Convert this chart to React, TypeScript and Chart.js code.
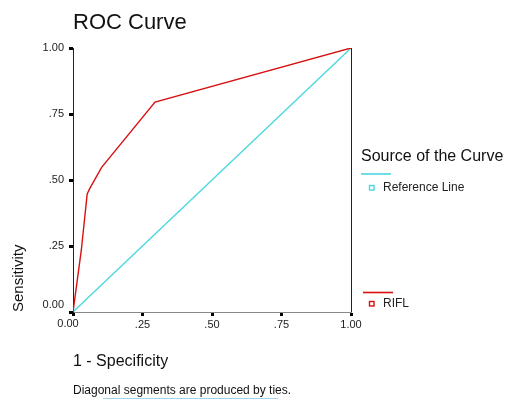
import React, { useEffect, useRef } from "react";
import { Chart, registerables } from "chart.js";

Chart.register(...registerables);

const titleText = "ROC Curve";
const xTitle = "1 - Specificity";
const yTitle = "Sensitivity";
const footnote = "Diagonal segments are produced by ties.";
const legendTitle = "Source of the Curve";
const seriesNames = ["Reference Line", "RIFL"];
const tickValues = [0, 0.25, 0.5, 0.75, 1];

const refX = [0, 1];
const refY = [0, 1];
const riflX = [0, 0.03, 0.051, 0.061, 0.103, 0.295, 1];
const riflY = [0, 0.235, 0.447, 0.469, 0.548, 0.795, 1];

const CYAN = "#4ad8e0";
const RED = "#d81010";
const FONT = "'Liberation Sans', Arial, sans-serif";

const fmt = (v: number) => (v === 0 || v === 1 ? v.toFixed(2) : v.toFixed(2).replace(/^0/, ""));

export default function App() {
  const ref = useRef<HTMLCanvasElement | null>(null);
  useEffect(() => {
    const canvas = ref.current;
    if (!canvas) return;
    const extras = {
      id: "extras",
      afterDraw(chart: any) {
        const { ctx, chartArea } = chart;
        const xs = chart.scales.x;
        const ys = chart.scales.y;
        ctx.save();
        // right frame line
        ctx.strokeStyle = "#222";
        ctx.lineWidth = 1;
        ctx.beginPath();
        ctx.moveTo(chartArea.right + 0.5, chartArea.top);
        ctx.lineTo(chartArea.right + 0.5, chartArea.bottom);
        ctx.stroke();
        // offset zero labels
        ctx.fillStyle = "#222";
        ctx.font = `11px ${FONT}`;
        ctx.textAlign = "right";
        ctx.textBaseline = "middle";
        ctx.fillText(fmt(0), chartArea.left - 9, ys.getPixelForValue(0) - 7);
        ctx.textAlign = "center";
        ctx.textBaseline = "top";
        ctx.fillText(fmt(0), xs.getPixelForValue(0) - 5, chartArea.bottom + 6);
        // title
        ctx.fillStyle = "#111";
        ctx.textAlign = "left";
        ctx.textBaseline = "middle";
        ctx.font = `22px ${FONT}`;
        ctx.fillText(titleText, chartArea.left, 23);
        // x title
        ctx.font = `16px ${FONT}`;
        ctx.fillText(xTitle, chartArea.left, 362);
        // footnote
        ctx.font = `12px ${FONT}`;
        ctx.fillText(footnote, chartArea.left, 391);
        ctx.strokeStyle = "#9fd4ea";
        ctx.beginPath();
        ctx.moveTo(103, 398.5);
        ctx.lineTo(278, 398.5);
        ctx.stroke();
        // y title (rotated, bottom aligned)
        ctx.save();
        ctx.translate(19, 312);
        ctx.rotate(-Math.PI / 2);
        ctx.font = `15px ${FONT}`;
        ctx.textAlign = "left";
        ctx.textBaseline = "middle";
        ctx.fillText(yTitle, 0, 0);
        ctx.restore();
        // legend
        ctx.fillStyle = "#111";
        ctx.font = `16px ${FONT}`;
        ctx.textAlign = "left";
        ctx.textBaseline = "middle";
        ctx.fillText(legendTitle, 361, 157);
        const items = [
          { name: seriesNames[0], color: CYAN, lineY: 174, rowY: 188, lx: 361 },
          { name: seriesNames[1], color: RED, lineY: 292.5, rowY: 304, lx: 363 },
        ];
        items.forEach((it) => {
          ctx.strokeStyle = it.color;
          ctx.lineWidth = 1.6;
          ctx.beginPath();
          ctx.moveTo(it.lx, it.lineY);
          ctx.lineTo(it.lx + 30, it.lineY);
          ctx.stroke();
          ctx.lineWidth = 1.4;
          ctx.strokeRect(369.5, it.rowY - 2.5, 4.5, 4.5);
          ctx.fillStyle = "#222";
          ctx.font = `12px ${FONT}`;
          ctx.fillText(it.name, 383, it.rowY);
        });
        ctx.restore();
      },
    };
    const chart = new Chart(canvas, {
      type: "scatter",
      data: {
        datasets: [
          {
            label: seriesNames[0],
            data: refX.map((x, i) => ({ x, y: refY[i] })),
            showLine: true,
            borderColor: CYAN,
            borderWidth: 1.3,
            pointRadius: 0,
            tension: 0,
            order: 2,
          },
          {
            label: seriesNames[1],
            data: riflX.map((x, i) => ({ x, y: riflY[i] })),
            showLine: true,
            borderColor: RED,
            borderWidth: 1.4,
            pointRadius: 0,
            tension: 0,
            order: 1,
          },
        ],
      },
      options: {
        responsive: false,
        animation: false,
        layout: { padding: { left: 0, top: 48, right: 155, bottom: 57 } },
        plugins: { legend: { display: false }, tooltip: { enabled: false }, title: { display: false } },
        scales: {
          x: {
            type: "linear",
            min: 0,
            max: 1,
            afterBuildTicks: (s: any) => { s.ticks = tickValues.map((v) => ({ value: v })); },
            afterFit: (s: any) => { s.height = 30; },
            ticks: {
              callback: (v: any) => fmt(Number(v)),
              color: (c: any) => (c.tick && c.tick.value === 0 ? "rgba(0,0,0,0)" : "#222"),
              font: { size: 11, family: FONT },
              padding: 2,
              maxRotation: 0,
              autoSkip: false,
            },
            grid: { drawOnChartArea: false, drawTicks: true, tickLength: 4, tickWidth: 3, tickColor: "#000" },
            border: { display: true, color: "#888", width: 1 },
          },
          y: {
            type: "linear",
            min: 0,
            max: 1,
            afterBuildTicks: (s: any) => { s.ticks = tickValues.map((v) => ({ value: v })); },
            afterFit: (s: any) => { s.width = 73; },
            ticks: {
              callback: (v: any) => fmt(Number(v)),
              color: (c: any) => (c.tick && c.tick.value === 0 ? "rgba(0,0,0,0)" : "#222"),
              font: { size: 11, family: FONT },
              padding: 5,
              autoSkip: false,
            },
            grid: { drawOnChartArea: false, drawTicks: true, tickLength: 4, tickWidth: 3, tickColor: "#000" },
            border: { display: true, color: "#222", width: 1 },
          },
        },
      },
      plugins: [extras],
    } as any);
    return () => chart.destroy();
  }, []);
  return (
    <div style={{ position: "fixed", left: 0, top: 0, width: 506, height: 399, background: "#fff" }}>
      <canvas ref={ref} width={506} height={399} style={{ width: 506, height: 399, display: "block" }} />
    </div>
  );
}
